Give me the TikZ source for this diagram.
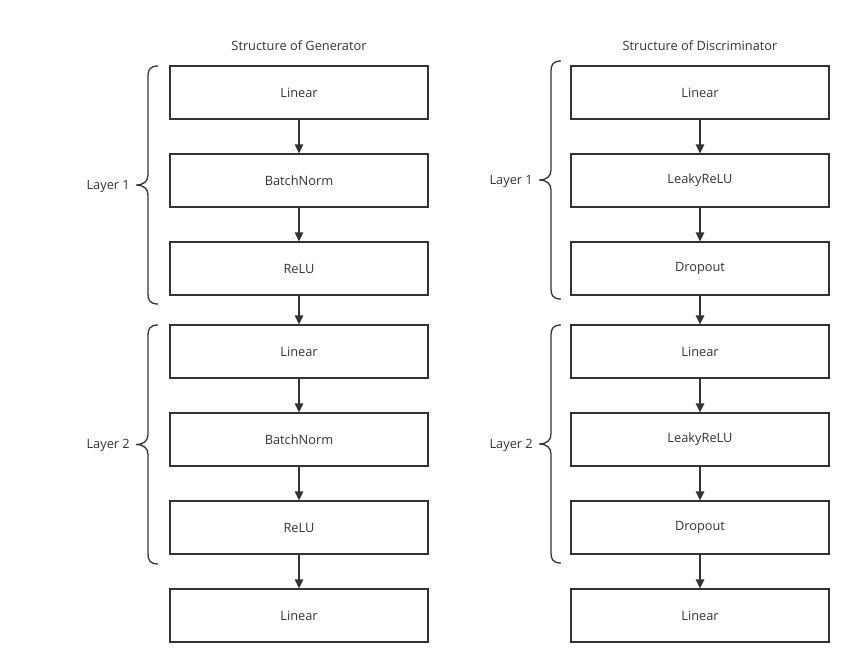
\documentclass[tikz,border=0pt]{standalone}
\usepackage{fontspec}
\setmainfont{Open Sans}
\usetikzlibrary{arrows.meta}
\definecolor{ink}{HTML}{333333}
\newcommand\drawbrace[3]{%
  \pgfmathsetmacro\bmid{(#2+#3)/2}%
  \draw[bracestyle] (#1+10,#2) .. controls (#1+2,#2) and (#1,#2+4) .. (#1,#2+10)
    -- (#1,\bmid-10) .. controls (#1,\bmid-4) and (#1-4,\bmid) .. (#1-12,\bmid)
    .. controls (#1-4,\bmid) and (#1,\bmid+4) .. (#1,\bmid+10)
    -- (#1,#3-10) .. controls (#1,#3-4) and (#1+2,#3) .. (#1+10,#3);}
\begin{document}
\begin{tikzpicture}[x=1pt,y=-1pt,
  font=\fontsize{12.8}{15}\selectfont, text=ink,
  blk/.style={draw=ink, line width=1.3pt, minimum width=258pt, minimum height=53pt, inner sep=0pt},
  flow/.style={draw=ink, line width=1.3pt, -{Triangle[length=9pt,width=8.5pt]}},
  bracestyle/.style={draw=ink, line width=1.3pt},
  lbl/.style={inner sep=0pt}]
\useasboundingbox (0,0) rectangle (866,667);
% titles
\node[lbl] (tg) at (299,46) {Structure of Generator};
\node[lbl] (td) at (700,46) {Structure of Discriminator};
% generator
\node[blk] (g1) at (299,92.5) {Linear};
\node[blk] (g2) at (299,180.5) {BatchNorm};
\node[blk] (g3) at (299,268.5) {ReLU};
\node[blk] (g4) at (299,351.5) {Linear};
\node[blk] (g5) at (299,439.5) {BatchNorm};
\node[blk] (g6) at (299,527.5) {ReLU};
\node[blk] (g7) at (299,615.5) {Linear};
% discriminator
\node[blk] (d1) at (700,92.5) {Linear};
\node[blk] (d2) at (700,180.5) {LeakyReLU};
\node[blk] (d3) at (700,268.5) {Dropout};
\node[blk] (d4) at (700,351.5) {Linear};
\node[blk] (d5) at (700,439.5) {LeakyReLU};
\node[blk] (d6) at (700,527.5) {Dropout};
\node[blk] (d7) at (700,615.5) {Linear};
\foreach \a/\b in {1/2,2/3,3/4,4/5,5/6,6/7}{
  \draw[flow] (g\a) -- (g\b);
  \draw[flow] (d\a) -- (d\b);
}
% braces
\drawbrace{148}{66}{304}
\drawbrace{148}{325}{564}
\drawbrace{551}{61}{299}
\drawbrace{551}{325}{563}
\node[lbl, anchor=east] (gl1) at (130,186) {Layer 1};
\node[lbl, anchor=east] (gl2) at (130,445.5) {Layer 2};
\node[lbl, anchor=east] (dl1) at (533,181) {Layer 1};
\node[lbl, anchor=east] (dl2) at (533,445) {Layer 2};
\end{tikzpicture}
\end{document}
